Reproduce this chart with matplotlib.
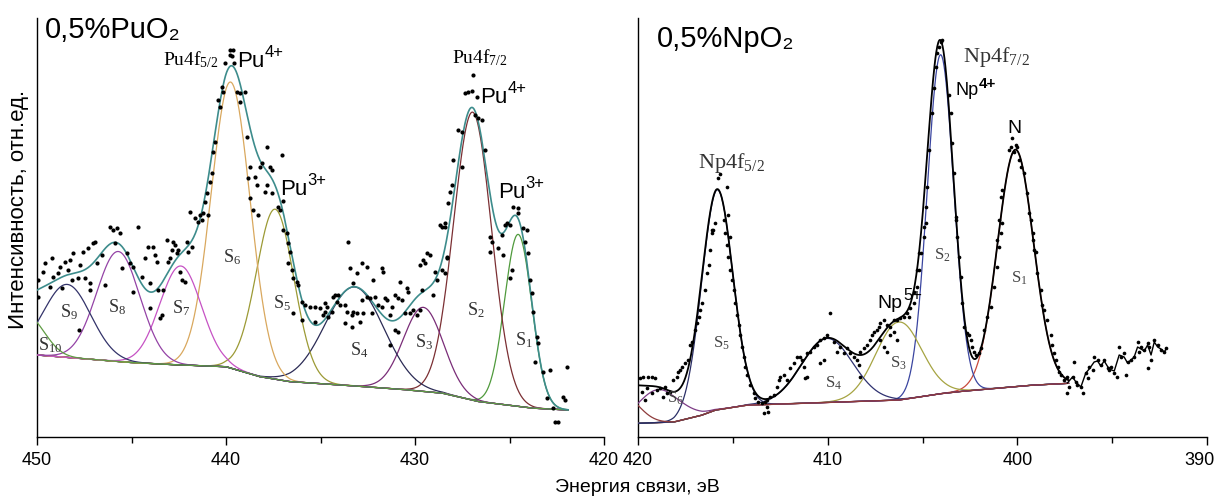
import numpy as np
import matplotlib
matplotlib.use('Agg')
import matplotlib.pyplot as plt
import matplotlib.transforms as mtransforms

plt.rcParams['font.family'] = ['Liberation Sans', 'DejaVu Sans']
plt.rcParams['mathtext.fontset'] = 'dejavusans'
SERIF = ['Liberation Serif', 'DejaVu Serif']

# ---------------- 0,5% PuO2 : Pu4f ----------------
# measured points: binding energy (eV), intensity (arb. units)
pu_e = [449.93, 449.93, 449.67, 449.58, 449.31, 449.22, 449.14, 448.87, 448.78, 448.69,
        448.52, 448.34, 448.25, 448.16, 448.08, 447.81, 447.72, 447.55, 447.46, 447.29,
        447.20, 447.20, 447.02, 446.93, 446.84, 446.58, 446.40, 446.14, 445.96, 445.78,
        445.61, 445.87, 445.49, 445.25, 445.08, 444.90, 444.90, 444.64, 444.46, 444.29,
        444.11, 444.02, 443.85, 444.02, 443.76, 443.67, 443.58, 443.49, 443.40, 443.32,
        443.14, 443.05, 442.96, 442.87, 442.79, 442.70, 442.61, 442.52, 442.43, 442.34,
        442.17, 442.08, 441.99, 441.90, 441.64, 441.47, 441.38, 441.29, 441.20, 440.94,
        447.79,
        439.79, 439.65, 439.79, 439.70, 440.05, 439.58, 440.23, 440.14, 439.43, 439.26,
        439.00, 440.40, 440.32, 439.26, 440.58, 440.67, 438.91, 438.73, 440.76, 440.85,
        437.85, 437.05, 438.11, 438.20, 437.67, 437.58, 438.47, 438.38, 438.82, 437.85,
        437.94, 437.58, 436.97, 438.73, 438.56, 438.29, 441.02, 441.11, 441.82, 437.23,
        437.14, 436.97, 436.79, 436.70, 436.61, 436.53, 436.44, 436.26, 436.17, 435.99,
        435.82, 435.56, 435.29, 435.03, 436.44, 435.99, 435.29, 434.76, 436.70,
        433.53, 433.44, 433.08, 432.82, 432.56, 431.76, 431.68, 432.21, 433.26, 434.23,
        434.32, 434.06, 434.67, 434.76, 434.85, 434.59, 434.41, 434.14, 433.97, 433.70,
        433.61, 433.35, 433.26, 433.08, 432.73, 433.70, 433.35, 432.91, 432.82, 432.56,
        432.38, 432.12, 431.94, 431.59, 431.32, 431.24, 431.06, 430.88, 430.79, 430.71,
        430.53, 430.44, 430.35, 430.26, 430.09, 429.74, 429.74, 429.65, 429.56, 429.47,
        429.38, 429.21, 428.94, 428.85, 428.68, 428.41, 428.32, 429.03, 431.06, 430.88,
        431.32, 431.76, 431.50, 432.30, 429.91,
        426.91, 427.35, 427.18, 427.00, 426.74, 426.83, 426.65, 426.47, 427.71, 427.53,
        426.30, 427.97, 427.53, 428.06, 428.15, 428.24, 426.03, 425.94, 428.41, 428.59,
        425.59, 425.33, 426.03, 428.32, 428.41, 428.59, 424.97, 424.89, 424.80, 424.54,
        424.54, 425.15, 425.24, 424.27, 424.09, 424.18, 424.00, 423.92, 423.83, 423.74,
        423.56, 423.48, 423.65, 423.21, 422.86, 421.98, 423.03, 422.15, 422.06, 422.59,
        422.42, 422.68, 425.42, 424.97]
pu_i = [157, 140, 165, 174, 150, 179, 160, 164, 170, 149,
        175, 167, 177, 157, 184, 159, 172, 185, 159, 189,
        154, 147, 194, 195, 174, 182, 152, 210, 207, 209,
        204, 194, 169, 184, 174, 170, 145, 210, 160, 179,
        190, 154, 190, 129, 182, 175, 147, 119, 122, 147,
        197, 175, 179, 187, 195, 192, 184, 187, 165, 157,
        155, 195, 185, 225, 219, 215, 222, 217, 224, 222,
        107,
        387, 387, 382, 381, 374, 374, 350, 345, 345, 344,
        345, 337, 330, 335, 295, 285, 300, 270, 264, 255,
        290, 282, 274, 270, 270, 267, 260, 252, 259, 252,
        245, 244, 236, 239, 227, 222, 244, 235, 190, 230,
        227, 207, 204, 194, 185, 167, 159, 155, 152, 135,
        132, 130, 130, 129, 124, 117, 115, 134, 174,
        195, 169, 164, 174, 170, 169, 165, 157, 154, 142,
        140, 142, 130, 125, 122, 120, 125, 135, 132, 132,
        125, 122, 125, 124, 124, 114, 110, 115, 137, 140,
        139, 140, 132, 139, 122, 130, 142, 139, 155, 137,
        124, 149, 145, 124, 127, 127, 172, 147, 177, 174,
        184, 182, 165, 157, 212, 210, 179, 142, 107, 105,
        92, 130, 137, 124, 122,
        362, 344, 345, 346, 340, 322, 319, 317, 307, 305,
        287, 277, 270, 252, 245, 234, 200, 195, 214, 210,
        189, 182, 185, 180, 164, 167, 159, 167, 230, 229,
        224, 214, 212, 209, 207, 195, 184, 157, 144, 125,
        100, 94, 75, 65, 67, 70, 39, 40, 37, 15,
        15, 29, 202, 212]

# fitted components S1..S10: centre (eV), height over background, sigma (eV)
pu_centre = [424.54, 426.95, 429.56, 433.2, 437.4, 439.75, 442.4, 445.7, 448.4, 450.5]
pu_height = [172, 288, 84, 99, 170, 286, 99, 110, 73, 38]
pu_sigma = [0.72, 1.0, 1.05, 1.55, 1.0, 1.03, 1.1, 1.15, 1.25, 0.9]
pu_colors = ['#4f9a3c', '#7b2f33', '#7a2d78', '#2b2b55', '#9c9a35',
             '#d9a85e', '#c652c4', '#9443a6', '#33336a', '#5f9c43']

# background read at a few energies
pu_bg_e = [450, 444.9, 442.4, 440.0, 438.2, 436.6, 432.6, 430.3, 428.5, 426.6, 423.7, 421.9]
pu_bg_i = [82, 74.3, 72, 70.3, 60.3, 55.3, 50.3, 47, 43.7, 35.3, 28.7, 27]
pu_ticks = [450, 440, 430, 420]

# ---------------- 0,5% NpO2 : Np4f ----------------
np_e = [415.67, 415.76, 415.31, 416.11, 415.23, 415.14,
        419.89, 419.72, 419.46, 419.28, 419.10, 419.80, 419.54, 419.28, 419.01, 418.84,
        418.57, 418.31, 419.63, 418.66, 418.48, 418.13, 417.95, 417.87, 417.78, 417.69,
        417.52, 417.34, 417.25, 417.16, 416.99, 416.90, 416.81, 416.72, 416.63, 416.46,
        416.37, 416.28, 416.20, 416.11, 416.02, 415.93, 415.49, 415.40, 415.31, 415.23,
        415.14, 415.05, 414.96, 414.87, 414.78, 414.70, 414.61, 414.52, 414.43, 414.35,
        414.26, 414.08, 413.91, 413.82, 413.65, 413.47, 413.29, 413.21, 413.38, 413.12,
        413.21, 413.03, 412.85, 412.68, 412.59, 412.50, 412.32, 412.15, 411.97, 411.80,
        411.62, 411.44, 411.35, 411.27, 411.18, 411.09, 410.91, 410.74, 410.56, 410.39,
        410.21, 410.03, 409.86, 409.68, 409.50, 409.33, 409.15, 408.97, 408.80, 408.62,
        408.45, 408.36, 408.27, 408.10, 407.92, 407.75, 407.66, 407.57, 407.40, 407.31,
        407.22, 407.05, 406.87, 406.69, 406.52, 406.34, 406.16, 405.99, 405.81, 405.64,
        405.46, 405.29, 405.20, 405.20, 411.09, 410.39, 410.21, 408.27, 407.22, 407.05,
        406.87, 406.69, 406.52, 406.34,
        405.72, 405.46, 405.28, 405.10, 404.93, 404.84, 403.25, 403.16, 403.07, 402.99,
        402.90, 402.81, 402.64, 402.55, 402.46, 402.37, 402.29, 402.20, 402.02, 401.93,
        401.76, 401.58, 401.41, 401.23, 401.05, 400.97, 400.88, 400.79, 399.29, 399.20,
        399.12, 399.03, 398.94, 398.76, 398.68, 398.59, 398.41, 398.24, 398.15, 398.06,
        397.97, 397.88, 397.80, 397.71, 397.54,
        397.36, 397.27, 397.36, 397.09, 397.00, 396.91, 396.83, 396.65, 396.56, 396.39,
        396.30, 396.21, 396.03, 395.95, 395.77, 395.60, 395.42, 395.24, 395.16, 395.07,
        394.89, 394.72, 394.63, 394.54, 394.37, 394.28, 394.19, 394.01, 393.84, 393.66,
        393.57, 393.48, 393.31, 393.13, 393.13, 393.04, 392.95, 392.78, 392.60, 392.43,
        392.25, 392.16,
        404.14, 404.05, 403.96, 404.22, 404.31, 404.40, 404.49, 404.67, 404.75, 404.84,
        404.93, 403.61, 403.52, 403.43, 403.34, 403.25, 400.26, 400.08, 400.35, 400.00,
        400.44, 400.17, 399.91, 399.82, 399.65, 400.79, 400.88, 399.47, 399.38, 400.97,
        401.05, 399.20]
np_i = [263, 259, 250, 207, 222, 200,
        58.7, 60.3, 60.3, 59.7, 58.7, 45.3, 48.7, 43.7, 47, 48.7,
        50.3, 45.3, 37, 40.3, 43.7, 57, 60.3, 65.3, 67, 70.3,
        73.7, 77, 92, 95.3, 107, 113.7, 120.3, 127, 133.7, 147,
        163.7, 172, 187, 203.7, 207, 213.7, 217, 203.7, 192, 180.3,
        167, 157, 147, 133.7, 122, 112, 102, 90.3, 80.3, 70.3,
        62, 52, 43.7, 38.7, 35.3, 33.7, 35.3, 30.3, 23.7, 25.3,
        37, 40.3, 42, 50.3, 57, 60.3, 62, 57, 68.7, 73.7,
        80.3, 80.3, 77, 70.3, 58.7, 83.7, 85.3, 90.3, 92, 97,
        98.7, 102, 123.7, 95.3, 85.3, 90.3, 83.7, 88.7, 83.7, 80.3,
        77, 72, 85.3, 88.7, 92, 97, 102, 105.3, 107, 110.3,
        113.7, 117, 112, 110.3, 117, 117, 118.7, 120.3, 123.7, 128.7,
        133.7, 150.3, 167, 183.7, 60.3, 73.7, 77, 60.3, 97, 90.3,
        85.3, 102, 105.3, 97,
        120.3, 145.3, 167, 183.7, 200.3, 213.7, 217, 200.3, 180.3, 160.3,
        133.7, 110.3, 103.7, 102, 97, 90.3, 85.3, 82, 83.7, 88.7,
        107, 120.3, 130.3, 150.3, 170.3, 190.3, 203.7, 213.7, 217, 203.7,
        187, 185.3, 163.7, 147, 132, 127, 117, 102, 92, 83.7,
        77, 70.3, 65.3, 62, 57,
        60.3, 50.3, 43.7, 60.3, 75.3, 55.3, 52, 50.3, 43.7, 63.7,
        58.7, 70.3, 67, 80.3, 77, 72, 77, 68.7, 67, 70.3,
        63.7, 60.3, 90.3, 80.3, 83.7, 62, 75.3, 77, 80.3, 95.3,
        85.3, 90.3, 87, 93.7, 68.7, 90.3, 77, 97, 92, 87,
        85.3, 88.7,
        390.3, 395.3, 397, 383.7, 370.3, 348.7, 323.7, 287, 250.3, 230.3,
        210.3, 342, 323.7, 293.7, 263.7, 220.3, 298.7, 292, 290.3, 290.3,
        287, 285.3, 277, 270.3, 263.7, 247, 240.3, 243.7, 223.7, 217,
        197, 197]

# measured trace beyond the fitted range (drawn as a line)
np_tail_e = [397.36, 397.09, 396.91, 396.65, 396.39, 396.21, 395.95, 395.77, 395.60, 395.42,
             395.16, 394.89, 394.63, 394.37, 394.19, 394.01, 393.84, 393.66, 393.48, 393.31,
             393.13, 392.95, 392.78, 392.60, 392.43, 392.25, 392.16]
np_tail_i = [54, 60, 55, 50, 64, 68, 75, 76, 71, 76,
             68, 66, 82, 80, 74, 77, 80, 90, 88, 86,
             92, 82, 95, 90, 88, 85, 88]

# components S1..S6 and an unlabelled one above 420 eV
np_centre = [400.1, 404.05, 406.25, 410.03, 415.82, 418.9, 420.8]
np_height = [237, 339, 78, 64, 220, 33, 28]
np_sigma = [0.95, 0.7, 1.2, 1.35, 0.82, 1.1, 0.85]
np_colors = ['#c84a3c', '#3a45a0', '#a6a442', '#2e3170', '#2a2e66', '#7d3c86', '#8e3b3b']

np_bg_e = [420, 418.1, 417.3, 416.6, 415.9, 414.2, 411.4, 406.2, 403.9, 402.6, 399.1, 397.3]
np_bg_i = [13.7, 15, 18.7, 22, 27, 32, 33.7, 37, 43.7, 46.3, 52, 53.7]
np_ticks = [420, 410, 400, 390]


def gauss(x, c, h, s):
    return h * np.exp(-0.5 * ((x - c) / s) ** 2)


def draw_fit(ax, lo, hi, bg_e, bg_i, centres, heights, sigmas, colors, bg_color, env_color, env_lw):
    x = np.linspace(lo, hi, 900)
    order = np.argsort(bg_e)
    bg = np.interp(x, np.array(bg_e)[order], np.array(bg_i)[order])
    ax.plot(x, bg, color=bg_color, lw=1.0, zorder=2)
    total = bg.copy()
    for c, h, s, col in zip(centres, heights, sigmas, colors):
        y = gauss(x, c, h, s)
        ax.plot(x, bg + y, color=col, lw=0.9, zorder=3)
        total += y
    ax.plot(x, total, color=env_color, lw=env_lw, zorder=4)


def sup_text(ax, x, y, base, sup, size, sup_size, rise, sup_weight='normal'):
    # base text plus a raised superscript placed right after it
    t = ax.text(x, y, base, fontsize=size, va='baseline', zorder=6)
    w = t.get_window_extent(renderer=fig.canvas.get_renderer()).width * 72 / fig.dpi
    tr = mtransforms.offset_copy(ax.transData, fig=fig, x=w + 0.3, y=rise, units='points')
    ax.text(x, y, sup, fontsize=sup_size, va='baseline', transform=tr,
            fontweight=sup_weight, zorder=6)


fig = plt.figure(figsize=(12.17, 4.97), dpi=100)
ax1 = fig.add_axes([37 / 1217, 60 / 497, 567 / 1217, 419 / 497])
ax2 = fig.add_axes([638 / 1217, 60 / 497, 569 / 1217, 419 / 497])

for ax, ticks in ((ax1, pu_ticks), (ax2, np_ticks)):
    ax.set_xlim(ticks[0], ticks[-1])
    ax.set_ylim(0, 419)
    ax.spines[['top', 'right']].set_visible(False)
    for sp in ('left', 'bottom'):
        ax.spines[sp].set_linewidth(1.0)
    ax.set_yticks([])
    ax.set_xticks(ticks)
    ax.set_xticks(np.arange(ticks[-1], ticks[0], 5), minor=True)
    ax.tick_params(axis='x', which='major', length=6, width=1, labelsize=13, pad=5)
    ax.tick_params(axis='x', which='minor', length=4, width=1)

# keep the last tick label inside the figure
last = ax2.get_xticklabels()[-1]
last.set_transform(last.get_transform() + mtransforms.ScaledTranslation(-0.08, 0, fig.dpi_scale_trans))

# left panel
draw_fit(ax1, 421.9, 450, pu_bg_e, pu_bg_i, pu_centre, pu_height, pu_sigma, pu_colors,
         '#2f2f66', '#3d8c8c', 1.2)
ax1.scatter(pu_e, pu_i, s=9, c='black', lw=0, zorder=5)

ax1.text(449.58, 399, '0,5%PuO₂', fontsize=21, va='baseline', zorder=6)
ax1.text(443.33, 372, r'Pu4f$\mathregular{_{5/2}}$', family=SERIF, fontsize=14, va='baseline', zorder=6)
ax1.text(428.04, 374, r'Pu4f$\mathregular{_{7/2}}$', family=SERIF, fontsize=14, va='baseline', zorder=6)
for e, i, charge in ((439.43, 370, '4+'), (437.14, 242, '3+'), (426.56, 334, '4+'), (425.61, 239, '3+')):
    sup_text(ax1, e, i, 'Pu', charge, 16, 12, 7.5)

pu_label_pos = [(424.71, 92), (427.25, 122), (430.0, 90), (433.44, 82), (437.51, 129),
                (440.16, 175), (442.86, 124), (446.24, 125), (448.78, 120), (449.95, 87)]
for k, (e, i) in enumerate(pu_label_pos):
    ax1.text(e, i, r'S$\mathregular{_{%d}}$' % (k + 1), family=SERIF, fontsize=13,
             va='baseline', color='#333333', zorder=6)

# right panel
draw_fit(ax2, 397.3, 420, np_bg_e, np_bg_i, np_centre, np_height, np_sigma, np_colors,
         '#8e3b3b', 'black', 1.3)
ax2.plot(np_tail_e, np_tail_i, color='black', lw=1.0, zorder=4)
ax2.scatter(np_e, np_i, s=7, c='black', lw=0, zorder=5)

ax2.text(419.0, 390, '0,5%NpO₂', fontsize=21, va='baseline', zorder=6)
ax2.text(416.83, 269, r'Np4f$\mathregular{_{5/2}}$', family=SERIF, fontsize=16, va='baseline',
         color='#333333', zorder=6)
ax2.text(402.88, 375, r'Np4f$\mathregular{_{7/2}}$', family=SERIF, fontsize=16, va='baseline',
         color='#333333', zorder=6)
sup_text(ax2, 403.25, 342, 'Np', '4+', 13, 11, 5, sup_weight='bold')
ax2.text(400.51, 304, 'N', fontsize=14, va='baseline', zorder=6)
sup_text(ax2, 407.37, 129, 'Np', '5+', 14, 12, 6)

np_label_pos = [(400.35, 154), (404.42, 177), (406.69, 69), (410.12, 49), (416.04, 89), (418.47, 34)]
for k, (e, i) in enumerate(np_label_pos):
    ax2.text(e, i, r'S$\mathregular{_{%d}}$' % (k + 1), family=SERIF, fontsize=12,
             va='baseline', color='#444444', zorder=6)

fig.text(637 / 1217, 10 / 497, 'Энергия связи, эВ', fontsize=14, ha='center', va='center')
fig.text(19 / 1217, 288 / 497, 'Интенсивность, отн.ед.', fontsize=16, rotation=90,
         ha='center', va='center')

fig.savefig('out.png', dpi=100)
